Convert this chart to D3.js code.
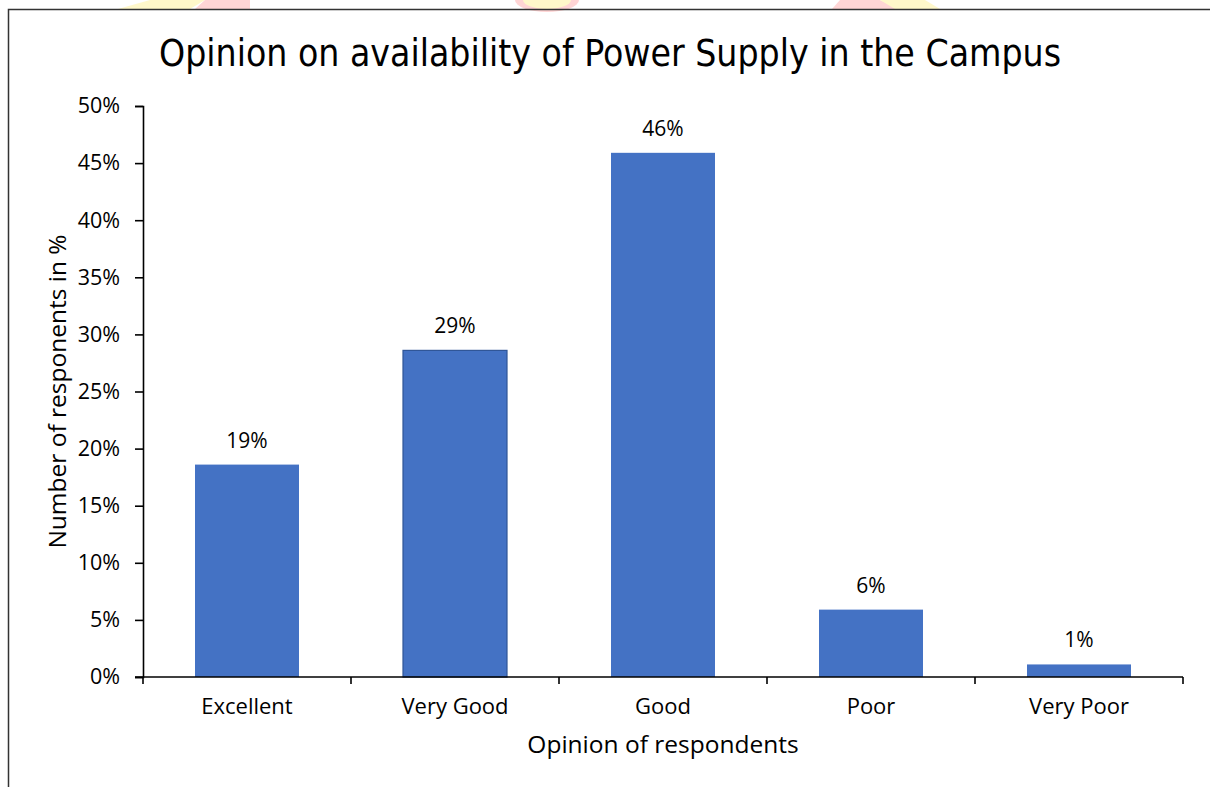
<!DOCTYPE html>
<html>
  <head>
    <meta charset="utf-8">
    <style>
    body { margin: 0; background: #fff; }
    text { font-family: "Open Sans", sans-serif; fill: #000; }
    .title { font-family: "DejaVu Sans", sans-serif; font-stretch: condensed; font-size: 37px; }
    .axis path, .axis line { stroke: #000; stroke-width: 1.6px; }
    .axis text { font-size: 21.5px; font-family: "Open Sans", sans-serif; }
    .axis .xlabel { font-size: 22px; }
    .axis-title { font-size: 24.5px; }
    .value { font-size: 21px; }
    </style>
  </head>
  <body>
    <script src="https://d3js.org/d3.v7.min.js"></script>
    <script>

    var categories = ["Excellent", "Very Good", "Good", "Poor", "Very Poor"];
    var values = [18.6, 28.6, 45.9, 5.9, 1.1];
    var yTicks = [0, 5, 10, 15, 20, 25, 30, 35, 40, 45, 50];

    var width = 1210, height = 787;
    var margin = {top: 106, right: 27, bottom: 110, left: 143};

    var svg = d3.select("body").append("svg")
        .attr("width", width)
        .attr("height", height);

    // faint watermark bits peeking above the frame
    var wm = svg.append("g").attr("opacity", 0.55);
    wm.append("path").attr("d", "M118,9 L150,0 L205,0 L190,9 Z").attr("fill", "#fff3a0");
    wm.append("path").attr("d", "M195,9 L205,0 L250,0 L250,9 Z").attr("fill", "#ffb3b3");
    wm.append("ellipse").attr("cx", 547).attr("cy", 0).attr("rx", 32).attr("ry", 12).attr("fill", "#ffb3b3");
    wm.append("ellipse").attr("cx", 547).attr("cy", 0).attr("rx", 24).attr("ry", 9).attr("fill", "#fff3a0");
    wm.append("path").attr("d", "M832,9 L840,0 L880,0 L900,9 Z").attr("fill", "#ffb3b3");
    wm.append("path").attr("d", "M880,0 L925,0 L940,9 L895,9 Z").attr("fill", "#fff3a0");

    // chart frame
    svg.append("path")
        .attr("d", "M8.5," + height + " L8.5,9.5 L" + width + ",9.5")
        .attr("fill", "none")
        .attr("stroke", "#333")
        .attr("stroke-width", 1.5);

    var x = d3.scaleBand()
        .domain(categories)
        .range([margin.left, width - margin.right])
        .paddingInner(0.5)
        .paddingOuter(0.25);

    var y = d3.scaleLinear()
        .domain([0, 50])
        .range([height - margin.bottom, margin.top]);

    svg.append("text")
        .attr("class", "title")
        .attr("x", 610)
        .attr("y", 66)
        .attr("text-anchor", "middle")
        .text("Opinion on availability of Power Supply in the Campus");

    svg.selectAll(".bar")
        .data(values)
        .enter().append("rect")
          .attr("class", "bar")
          .attr("x", function(d, i) { return x(categories[i]); })
          .attr("y", function(d) { return y(d); })
          .attr("width", x.bandwidth())
          .attr("height", function(d) { return y(0) - y(d); })
          .attr("fill", "#4472c4")
          .attr("stroke", function(d, i) { return i == 1 ? "#2f5597" : "none"; })
          .attr("stroke-width", 1.2);

    svg.selectAll(".value")
        .data(values)
        .enter().append("text")
          .attr("class", "value")
          .attr("x", function(d, i) { return x(categories[i]) + x.bandwidth() / 2; })
          .attr("y", function(d) { return y(d) - 17; })
          .attr("text-anchor", "middle")
          .text(function(d) { return Math.round(d) + "%"; });

    // y axis
    svg.append("g")
        .attr("class", "axis")
        .attr("transform", "translate(" + margin.left + ",0)")
        .call(d3.axisLeft(y).tickValues(yTicks).tickSizeOuter(0).tickSize(8).tickPadding(15)
          .tickFormat(function(d) { return d + "%"; }));

    // x axis, ticks sit on the category boundaries
    var step = x.step();
    var xAxis = svg.append("g")
        .attr("class", "axis")
        .attr("transform", "translate(0," + y(0) + ")");
    xAxis.append("line")
        .attr("x1", margin.left - 8).attr("x2", width - margin.right)
        .attr("y1", 0).attr("y2", 0);
    xAxis.selectAll(".xtick")
        .data(d3.range(categories.length + 1))
        .enter().append("line")
          .attr("class", "xtick")
          .attr("x1", function(i) { return margin.left + i * step; })
          .attr("x2", function(i) { return margin.left + i * step; })
          .attr("y1", 0).attr("y2", 7);
    xAxis.selectAll(".xlabel")
        .data(categories)
        .enter().append("text")
          .attr("class", "xlabel")
          .attr("x", function(d) { return x(d) + x.bandwidth() / 2; })
          .attr("y", 37)
          .attr("text-anchor", "middle")
          .text(function(d) { return d; });

    svg.append("text")
        .attr("class", "axis-title")
        .attr("x", margin.left + (width - margin.right - margin.left) / 2)
        .attr("y", 753)
        .attr("text-anchor", "middle")
        .text("Opinion of respondents");

    svg.append("text")
        .attr("class", "axis-title")
        .attr("transform", "translate(66," + (y(25)) + ") rotate(-90)")
        .attr("text-anchor", "middle")
        .text("Number of responents in %");

    </script>
  </body>
</html>
